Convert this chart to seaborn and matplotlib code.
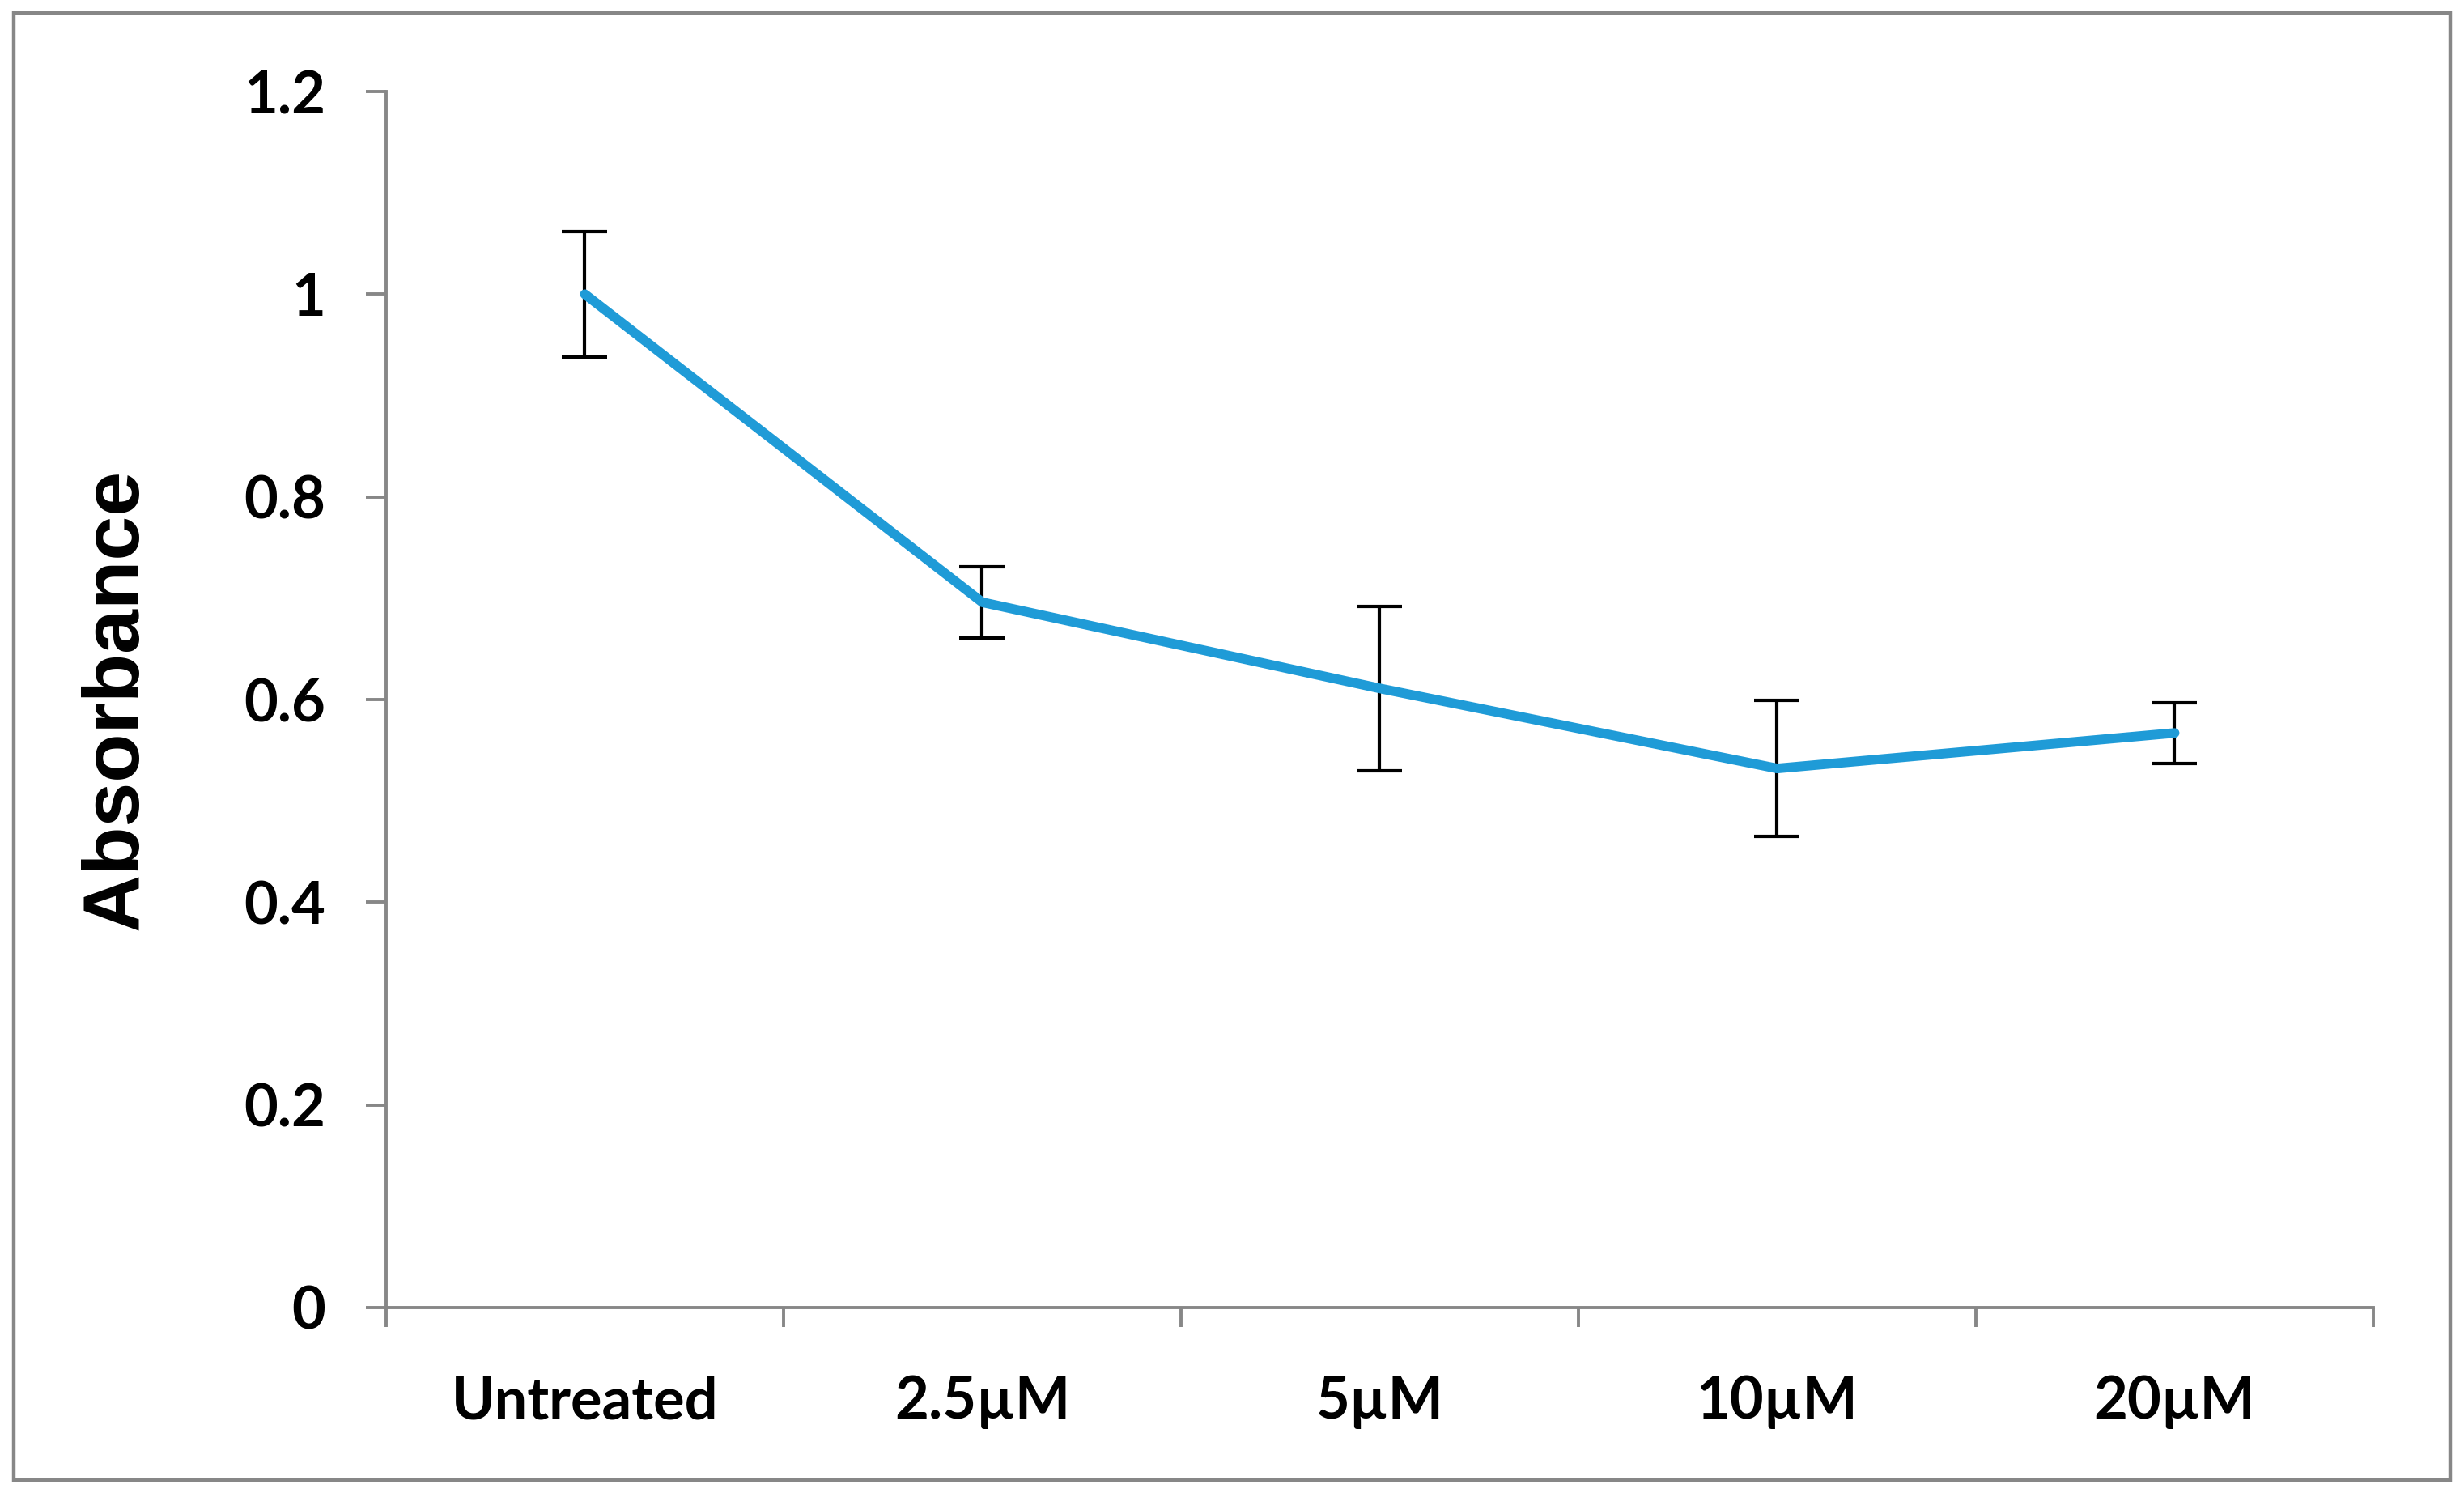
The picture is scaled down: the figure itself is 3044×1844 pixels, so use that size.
import numpy as np
import pandas as pd
import seaborn as sns
import matplotlib.pyplot as plt
from matplotlib.patches import Rectangle

# data
treatments = ["Untreated", "2.5µM", "5µM", "10µM", "20µM"]
absorbance = [1.000, 0.696, 0.611, 0.532, 0.567]
abs_err = [0.062, 0.035, 0.081, 0.067, 0.030]

sns.set_theme(style="white")
plt.rcParams['font.family'] = ['Lato', 'DejaVu Sans']

df = pd.DataFrame({"treatment": treatments, "absorbance": absorbance, "err": abs_err})

fig = plt.figure(figsize=(15.22, 9.22), dpi=200)
ax = fig.add_axes([0.1567, 0.1242, 0.8065, 0.8145])

axis_grey = "#878787"
line_blue = "#1f9bd7"

sns.lineplot(data=df, x="treatment", y="absorbance", ax=ax, color=line_blue,
             linewidth=4.3, sort=False, zorder=3)
pos = np.arange(len(treatments))
ax.errorbar(pos, df["absorbance"], yerr=df["err"], fmt="none", ecolor="black",
            elinewidth=1.5, capsize=10, capthick=1.5, zorder=2)

ax.set_xlim(-0.5, len(treatments) - 0.5)
ax.set_ylim(0, 1.2)
ax.set_yticks([0, 0.2, 0.4, 0.6, 0.8, 1.0, 1.2])
ax.set_yticklabels(["0", "0.2", "0.4", "0.6", "0.8", "1", "1.2"])
ax.set_xticks(pos)
ax.set_xticklabels(treatments)
ax.set_xticks(np.arange(-0.5, len(treatments), 1.0), minor=True)

ax.tick_params(axis="x", which="major", bottom=True, length=0, pad=30, labelsize=26,
               labelcolor="black")
ax.tick_params(axis="x", which="minor", bottom=True, length=8.5, width=1.4, color=axis_grey,
               direction="out")
ax.tick_params(axis="y", which="major", left=True, length=9, width=1.4, color=axis_grey,
               direction="out", pad=18, labelsize=26, labelcolor="black")
for lab in ax.get_xticklabels() + ax.get_yticklabels():
    lab.set_fontweight("bold")

ax.set_xlabel("")
ax.set_ylabel("Absorbance", fontsize=35.5, fontweight="bold", family=["Liberation Sans", "DejaVu Sans"],
              labelpad=40, color="black")

for side in ["top", "right"]:
    ax.spines[side].set_visible(False)
for side in ["left", "bottom"]:
    ax.spines[side].set_color(axis_grey)
    ax.spines[side].set_linewidth(1.4)

# grey frame around the whole chart
fig.patches.append(Rectangle((0.0055, 0.0085), 0.989, 0.983, transform=fig.transFigure,
                             fill=False, edgecolor=axis_grey, linewidth=1.6))

fig.savefig("out.png", dpi=200, facecolor="white")
